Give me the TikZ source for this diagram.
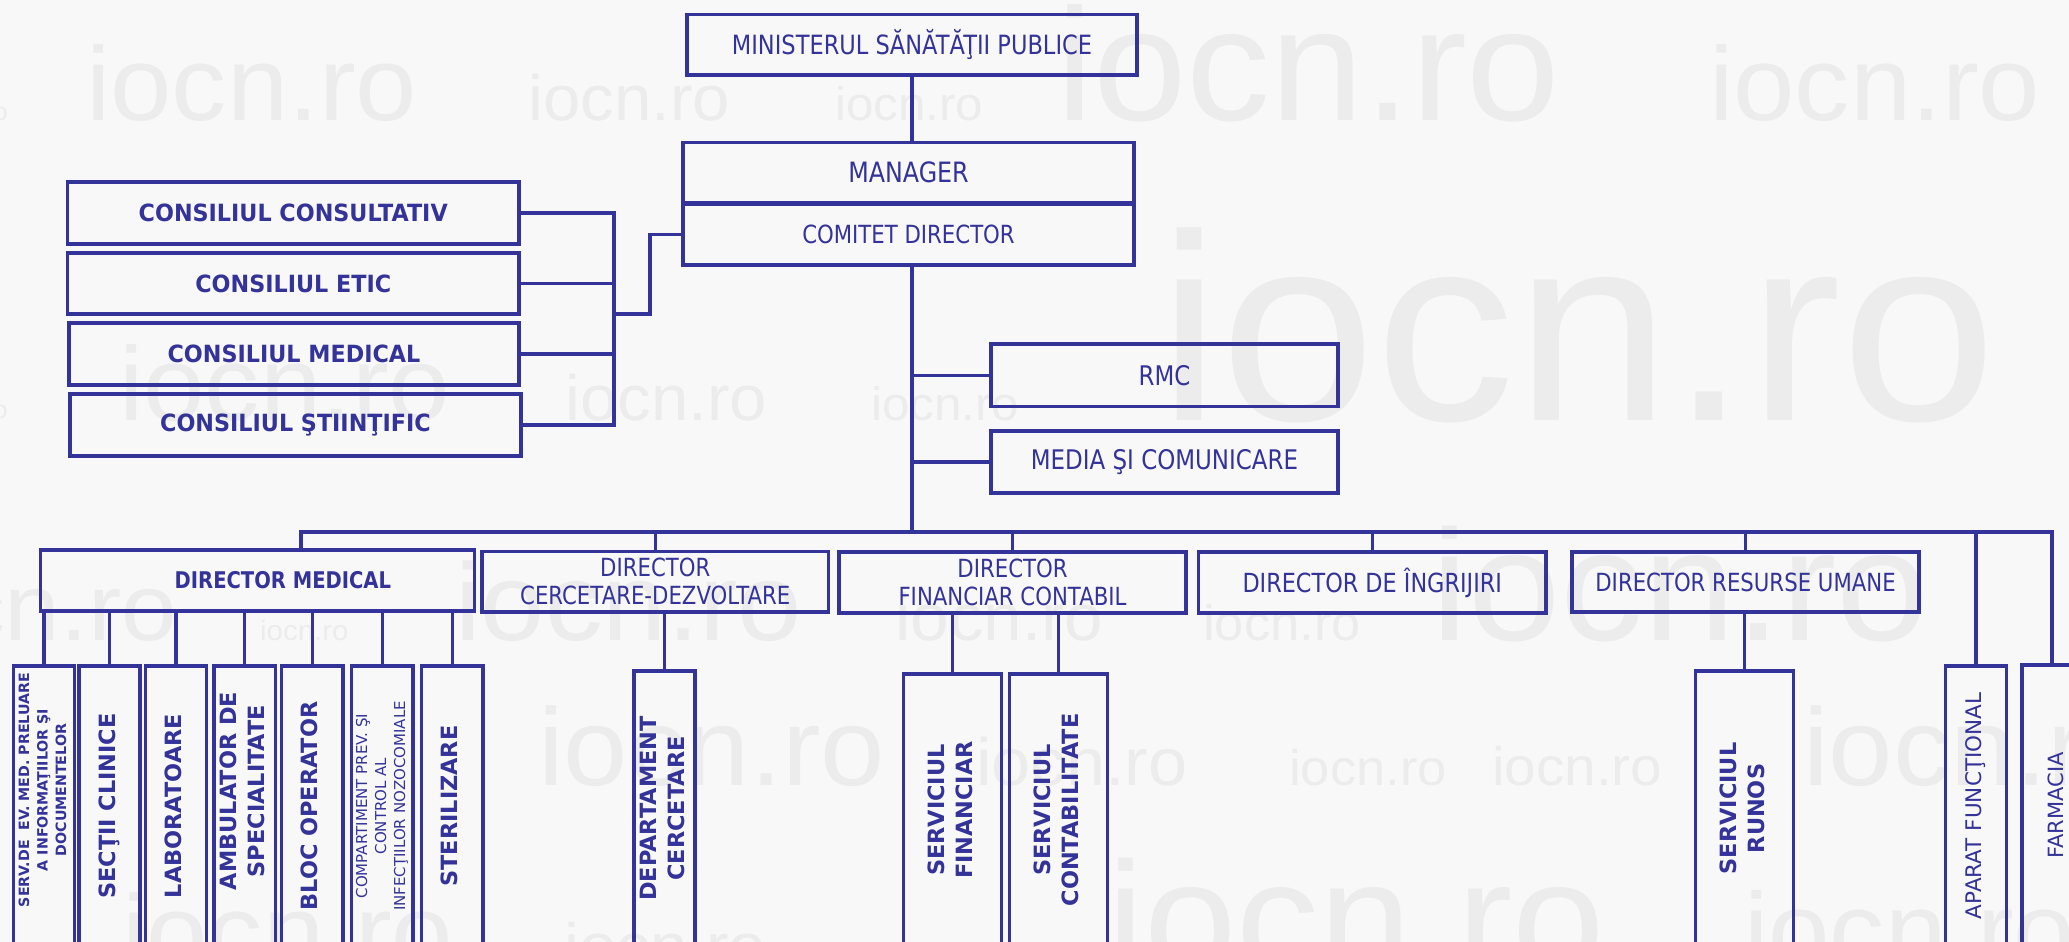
\documentclass[tikz,border=0pt]{standalone}
\usepackage{fontspec}
\usepackage{graphicx}
\setmainfont{DejaVu Sans}
\newfontfamily\hfont[FakeStretch=0.85]{DejaVu Sans}
\newfontfamily\hbfont[FakeStretch=0.94]{DejaVu Sans}
\newfontfamily\vfont{DejaVu Sans}
\newfontfamily\wmfont[FakeStretch=1.05]{Liberation Sans}
\definecolor{navy}{RGB}{51,51,153}
\definecolor{bgc}{RGB}{248,248,248}
\definecolor{wmc}{RGB}{236,236,236}
\newcommand{\vtxt}[1]{\rotatebox{90}{\begin{tabular}{@{}c@{}}#1\end{tabular}}}
\tikzset{
  box/.style={draw=navy, line width=3.1pt, inner sep=0pt, text=navy, align=center},
  hreg/.style={box, font=\hfont\fontsize{25}{28}\selectfont},
  hbold/.style={box, font=\hbfont\bfseries\fontsize{23.7}{28}\selectfont},
  vbold/.style={box, font=\vfont\bfseries\fontsize{22.4}{28}\selectfont},
  vsmall/.style={box, font=\vfont\bfseries\fontsize{14.2}{18.5}\selectfont},
  vreg/.style={box, font=\vfont\fontsize{21.5}{26}\selectfont},
  vregs/.style={box, font=\vfont\fontsize{15}{19}\selectfont},
  link/.style={draw=navy, line width=3.1pt},
  wm/.style={text=wmc, inner sep=0pt, anchor=base west, font=\wmfont\fontsize{#1}{#1}\selectfont},
}
\begin{document}
\begin{tikzpicture}[x=1pt,y=-1pt]
\path[use as bounding box] (0,0) rectangle (2069,942);
\clip (0,0) rectangle (2069,942);
\fill[bgc] (0,0) rectangle (2069,942);
% watermarks
\node[wm=25, anchor=base east] (w0) at (8,120) {iocn.ro};
\node[wm=105] (w1) at (86,120) {iocn.ro};
\node[wm=64] (w2) at (528,120) {iocn.ro};
\node[wm=47] (w3) at (835,120) {iocn.ro};
\node[wm=160] (w4) at (1056,120) {iocn.ro};
\node[wm=105] (w5) at (1709,120) {iocn.ro};
\node[wm=25, anchor=base east] (w6) at (8,418) {iocn.ro};
\node[wm=105] (w7) at (119,420) {iocn.ro};
\node[wm=64] (w8) at (565,420) {iocn.ro};
\node[wm=47] (w9) at (871,420) {iocn.ro};
\node[wm=266] (w10) at (1158,420) {iocn.ro};
\node[wm=95, anchor=base east] (w11) at (177,640) {iocn.ro};
\node[wm=28] (w12) at (260,640) {iocn.ro};
\node[wm=110] (w13) at (455,640) {iocn.ro};
\node[wm=66] (w14) at (895,640) {iocn.ro};
\node[wm=50] (w15) at (1203,640) {iocn.ro};
\node[wm=158] (w16) at (1431,640) {iocn.ro};
\node[wm=110] (w17) at (538,785) {iocn.ro};
\node[wm=67] (w18) at (976,785) {iocn.ro};
\node[wm=50] (w19) at (1289,785) {iocn.ro};
\node[wm=54] (w20) at (1492,785) {iocn.ro};
\node[wm=110] (w21) at (1803,785) {iocn.ro};
\node[wm=105] (w22) at (122,968) {iocn.ro};
\node[wm=64] (w23) at (564,968) {iocn.ro};
\node[wm=158] (w24) at (1107,972) {iocn.ro};
\node[wm=105] (w25) at (1744,966) {iocn.ro};
% top
\node[hreg, font=\hfont\fontsize{26.5}{28}\selectfont, minimum width=450, minimum height=60.5] (min) at (912,44.75) {MINISTERUL SĂNĂTĂŢII PUBLICE};
\node[hreg, font=\hfont\fontsize{28}{30}\selectfont, minimum width=451, minimum height=59.8] (mgr) at (908.5,172.6) {MANAGER};
\node[hreg, minimum width=451, minimum height=61] (cd) at (908.5,234.5) {COMITET DIRECTOR};
% councils
\node[hbold, minimum width=451.5, minimum height=62] (cc) at (293.25,213) {CONSILIUL CONSULTATIV};
\node[hbold, minimum width=451.5, minimum height=61] (ce) at (293.25,283.5) {CONSILIUL ETIC};
\node[hbold, minimum width=450, minimum height=62] (cm) at (294,354) {CONSILIUL MEDICAL};
\node[hbold, minimum width=451, minimum height=62] (cs) at (295.5,425) {CONSILIUL ŞTIINŢIFIC};
% staff
\node[hreg, font=\hfont\fontsize{27}{28}\selectfont, minimum width=347, minimum height=62.5] (rmc) at (1164.5,375.25) {RMC};
\node[hreg, font=\hfont\fontsize{27}{28}\selectfont, minimum width=347, minimum height=62] (media) at (1164.5,462) {MEDIA ŞI COMUNICARE};
% directors
\node[hreg, font=\hfont\bfseries\fontsize{23}{28}\selectfont, minimum width=433.3, minimum height=61] (dm) at (257.4,580.5) {\hspace*{51pt}DIRECTOR MEDICAL};
\node[hreg, minimum width=346.5, minimum height=60.5] (dcd) at (655.25,581.75) {DIRECTOR\\CERCETARE-DEZVOLTARE};
\node[hreg, minimum width=347, minimum height=61] (dfc) at (1012.5,582.5) {DIRECTOR\\FINANCIAR CONTABIL};
\node[hreg, font=\hfont\fontsize{26.3}{28}\selectfont, minimum width=347.5, minimum height=61] (dingr) at (1372.25,582.5) {DIRECTOR DE ÎNGRIJIRI};
\node[hreg, minimum width=347, minimum height=60] (drh) at (1745.5,582) {DIRECTOR RESURSE UMANE};
% vertical units
\node[vsmall, minimum width=61, minimum height=280] (serv) at (44,806) {\rotatebox{90}{\hspace*{32pt}\begin{tabular}{@{}c@{}}SERV.DE\ \ EV. MED. PRELUARE\\A INFORMAŢIILOR ŞI\\DOCUMENTELOR\end{tabular}}};
\node[vbold, minimum width=61, minimum height=280] (sec) at (109.5,806) {\vtxt{SECŢII CLINICE}};
\node[vbold, minimum width=61, minimum height=280] (lab) at (176,806) {\vtxt{LABORATOARE}};
\node[vbold, minimum width=61.5, minimum height=280] (amb) at (244.75,806) {\rotatebox{90}{\hspace*{30pt}\begin{tabular}{@{}c@{}}AMBULATOR DE\\SPECIALITATE\end{tabular}}};
\node[vbold, minimum width=61.5, minimum height=280] (bloc) at (312.25,806) {\vtxt{BLOC OPERATOR}};
\node[vregs, minimum width=61.5, minimum height=280] (comp) at (382.25,806) {\vtxt{COMPARTIMENT PREV. ŞI\\CONTROL AL\\INFECŢIILOR NOZOCOMIALE}};
\node[vbold, minimum width=61.5, minimum height=280] (ster) at (452.25,806) {\vtxt{STERILIZARE}};
\node[vbold, minimum width=61, minimum height=275] (dep) at (664.5,808.5) {\vtxt{DEPARTAMENT\\CERCETARE}};
\node[vbold, minimum width=98, minimum height=272] (sfin) at (952.5,810) {\vtxt{SERVICIUL\\FINANCIAR}};
\node[vbold, minimum width=98, minimum height=272] (scont) at (1058.5,810) {\vtxt{SERVICIUL\\CONTABILITATE}};
\node[vbold, minimum width=98, minimum height=275] (runos) at (1744.5,808.5) {\vtxt{SERVICIUL\\RUNOS}};
\node[vreg, minimum width=61, minimum height=280] (apar) at (1976,806) {\vtxt{APARAT FUNCŢIONAL}};
\node[vreg, font=\vfont\fontsize{21}{26}\selectfont, minimum width=72, minimum height=281] (farm) at (2058,805.5) {\vtxt{FARMACIA}};
% connectors
\coordinate (bL) at (301,532);
\coordinate (bR) at (2052,532);
\coordinate (cj) at (614,314);
\draw[link] (min.south) -- (min.south |- mgr.north);
\draw[link] (min.south |- cd.south) -- (min.south |- bL);
\draw[link] (min.south |- rmc.west) -- (rmc.west);
\draw[link] (min.south |- media.west) -- (media.west);
\draw[link] (cc.east) -- (cc.east -| cj) -- (cs.east -| cj) -- (cs.east);
\draw[link] (ce.east) -- (ce.east -| cj);
\draw[link] (cm.east) -- (cm.east -| cj);
\draw[link] (cj) -- ++(36,0) |- (cd.west);
\draw[link] (bL |- dm.north) -- (bL) -- (bR) -- (bR |- farm.north);
\draw[link] (dcd.north |- bL) -- (dcd.north);
\draw[link] (dfc.north |- bL) -- (dfc.north);
\draw[link] (dingr.north |- bL) -- (dingr.north);
\draw[link] (drh.north |- bL) -- (drh.north);
\draw[link] (apar.north |- bL) -- (apar.north);
\foreach \c in {serv,sec,lab,amb,bloc,comp,ster} \draw[link] (\c.north |- dm.south) -- (\c.north);
\draw[link] (dep.north |- dcd.south) -- (dep.north);
\draw[link] (sfin.north |- dfc.south) -- (sfin.north);
\draw[link] (scont.north |- dfc.south) -- (scont.north);
\draw[link] (runos.north |- drh.south) -- (runos.north);
\end{tikzpicture}
\end{document}
